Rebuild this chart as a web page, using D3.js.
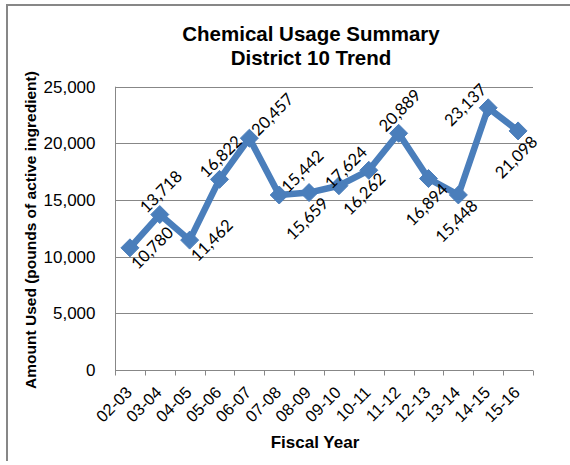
<!DOCTYPE html>
<html>
<head>
<meta charset="utf-8">
<script src="https://cdn.jsdelivr.net/npm/d3@7"></script>
<style>
  html, body { margin: 0; padding: 0; background: #fff; }
  svg { display: block; }
</style>
</head>
<body>
<svg id="chart" width="570" height="465"></svg>
<script>
// Fiscal years and pounds of active ingredient used in District 10
const years = ["02-03","03-04","04-05","05-06","06-07","07-08","08-09","09-10","10-11","11-12","12-13","13-14","14-15","15-16"];
const pounds = [10780, 13718, 11462, 16822, 20457, 15442, 15659, 16262, 17624, 20889, 16894, 15448, 23137, 21098];
// where each value label sits relative to its marker
const labelSide = ["right","above","right","above","upright","upright","below","belowright","left","above","below","below","left","below"];
const yTicks = [0, 5000, 10000, 15000, 20000, 25000];

const svg = d3.select("#chart");
const plot = { left: 115, right: 533, top: 86.7, bottom: 370 };

const x = d3.scaleBand().domain(years).range([plot.left, plot.right]).padding(0);
const y = d3.scaleLinear().domain([0, 25000]).range([plot.bottom, plot.top]);

const grey = "#878787";
const blue = "#4A7EBB";

// chart frame (top and left edges)
svg.append("line").attr("x1", 6).attr("x2", 570).attr("y1", 5).attr("y2", 5)
  .attr("stroke", grey).attr("stroke-width", 2);
svg.append("line").attr("x1", 7).attr("x2", 7).attr("y1", 4).attr("y2", 461)
  .attr("stroke", grey).attr("stroke-width", 2);

// title
const title = svg.append("text").attr("text-anchor", "middle")
  .attr("font-family", "Liberation Sans, Arial, sans-serif")
  .attr("font-weight", "bold").attr("font-size", 20.5).attr("fill", "#000");
title.append("tspan").attr("x", 311).attr("y", 41).text("Chemical Usage Summary");
title.append("tspan").attr("x", 311).attr("y", 65).text("District 10 Trend");

// horizontal gridlines
svg.append("g").selectAll("line").data(yTicks).join("line")
  .attr("x1", plot.left).attr("x2", plot.right)
  .attr("y1", d => Math.round(y(d)) + 0.5).attr("y2", d => Math.round(y(d)) + 0.5)
  .attr("stroke", grey).attr("stroke-width", 1);

// y axis
const yAxis = svg.append("g")
  .attr("transform", `translate(${plot.left + 0.5},0)`)
  .call(d3.axisLeft(y).tickValues(yTicks).tickSize(0).tickPadding(20)
    .tickFormat(d3.format(",")));
yAxis.select(".domain").attr("stroke", grey).attr("d", `M0,${plot.top}V${plot.bottom + 5}`);
yAxis.selectAll("text")
  .attr("font-family", "Liberation Sans, Arial, sans-serif")
  .attr("font-size", 17).attr("fill", "#000");

// x axis with boundary tick marks
const xAxis = svg.append("g")
  .attr("transform", `translate(0,${Math.round(plot.bottom) + 0.5})`);
xAxis.append("line").attr("x1", plot.left).attr("x2", plot.right)
  .attr("stroke", grey);
const bounds = years.map(d => x(d)).concat([plot.right]);
xAxis.selectAll("line.tick").data(bounds).join("line").attr("class", "tick")
  .attr("x1", d => Math.round(d) + 0.5).attr("x2", d => Math.round(d) + 0.5)
  .attr("y1", 0).attr("y2", 5).attr("stroke", grey);
xAxis.selectAll("text").data(years).join("text")
  .attr("transform", d => `translate(${x(d) + x.bandwidth() / 2 + 3},23) rotate(-45)`)
  .attr("text-anchor", "end")
  .attr("font-family", "Liberation Sans, Arial, sans-serif")
  .attr("font-size", 16.5).attr("fill", "#000")
  .text(d => d);

// axis titles
svg.append("text").attr("x", 315).attr("y", 448).attr("text-anchor", "middle")
  .attr("font-family", "Liberation Sans, Arial, sans-serif")
  .attr("font-weight", "bold").attr("font-size", 17).attr("fill", "#000")
  .text("Fiscal Year");
svg.append("text")
  .attr("transform", `translate(36,230) rotate(-90)`)
  .attr("text-anchor", "middle")
  .attr("font-family", "Liberation Sans, Arial, sans-serif")
  .attr("font-weight", "bold").attr("font-size", 15.5).attr("fill", "#000")
  .text("Amount Used (pounds of active ingredient)");

// series line
const pts = years.map((d, i) => ({ year: d, value: pounds[i], side: labelSide[i] }));
const cx = d => x(d.year) + x.bandwidth() / 2;
svg.append("path").datum(pts)
  .attr("d", d3.line().x(cx).y(d => y(d.value)))
  .attr("fill", "none").attr("stroke", blue).attr("stroke-width", 6.5)
  .attr("stroke-linejoin", "round");

// diamond markers
svg.append("g").selectAll("path").data(pts).join("path")
  .attr("transform", d => `translate(${cx(d)},${y(d.value)})`)
  .attr("d", "M0,-9L9,0L0,9L-9,0Z")
  .attr("fill", blue).attr("stroke", blue).attr("stroke-width", 1);

// value labels
const shift = {
  right: [22, 0], above: [1, -23], upright: [23, -24],
  below: [-2, 26], belowright: [25, 8], left: [-23, -3]
};
svg.append("g").selectAll("text").data(pts).join("text")
  .attr("transform", d => `translate(${cx(d) + shift[d.side][0]},${y(d.value) + shift[d.side][1]}) rotate(-45)`)
  .attr("text-anchor", "middle").attr("dominant-baseline", "central")
  .attr("font-family", "Lato, sans-serif").attr("font-size", 16.5).attr("fill", "#000")
  .text(d => d3.format(",")(d.value));
</script>
</body>
</html>
